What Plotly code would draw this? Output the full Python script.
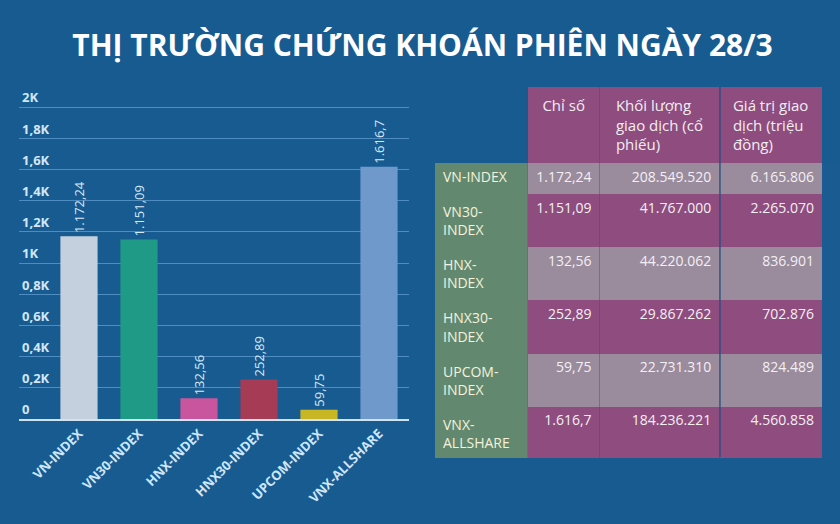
import plotly.graph_objects as go

# ---- data ----
indices = ["VN-INDEX", "VN30-INDEX", "HNX-INDEX", "HNX30-INDEX", "UPCOM-INDEX", "VNX-ALLSHARE"]
index_values = [1172.24, 1151.09, 132.56, 252.89, 59.75, 1616.7]
index_labels = ["1.172,24", "1.151,09", "132,56", "252,89", "59,75", "1.616,7"]
bar_colors = ["#c4d0dd", "#1f9a86", "#c8559d", "#a63b56", "#c8b624", "#6f98cb"]

y_tickvals = [0, 200, 400, 600, 800, 1000, 1200, 1400, 1600, 1800, 2000]
y_ticktext = ["0", "0,2K", "0,4K", "0,6K", "0,8K", "1K", "1,2K", "1,4K", "1,6K", "1,8K", "2K"]

table_names = ["VN-INDEX", "VN30-<br>INDEX", "HNX-<br>INDEX", "HNX30-<br>INDEX", "UPCOM-<br>INDEX", "VNX-<br>ALLSHARE"]
table_index = ["1.172,24", "1.151,09", "132,56", "252,89", "59,75", "1.616,7"]
table_volume = ["208.549.520", "41.767.000", "44.220.062", "29.867.262", "22.731.310", "184.236.221"]
table_value = ["6.165.806", "2.265.070", "836.901", "702.876", "824.489", "4.560.858"]
table_headers = ["", "<br>Chỉ số", "Khối lượng<br>giao dịch (cổ<br>phiếu)", "Giá trị giao<br>dịch (triệu<br>đồng)"]

title_text = "THỊ TRƯỜNG CHỨNG KHOÁN PHIÊN NGÀY 28/3"

BG = "#185b91"
GREEN = "#62896f"
PINK = "#8f4c7e"
GRAY = "#9a8b9d"
FONT = "Open Sans"

# plot-area geometry (pixels in an 840x524 page)
Y_MAX = 2150
PX_0, PX_2K = 419, 107
px_per_unit = (PX_0 - PX_2K) / 2000
px_top = PX_0 - Y_MAX * px_per_unit

fig = go.Figure()

fig.add_trace(go.Bar(
    x=indices, y=index_values, text=index_labels,
    marker=dict(color=bar_colors, line=dict(width=0)),
    width=0.62,
    textposition="outside", textangle=-90, cliponaxis=False,
    constraintext="none",
    textfont=dict(family=FONT, size=13, color="#d6e9f7"),
    hoverinfo="skip",
))

row_fill = [GRAY if i % 2 == 0 else PINK for i in range(len(indices))]
fig.add_trace(go.Table(
    domain=dict(x=[435 / 840, 823 / 840], y=[1 - 458 / 524, 1 - 87 / 524]),
    columnwidth=[93, 72, 120, 103],
    header=dict(
        values=table_headers,
        fill_color=[BG, PINK, PINK, PINK],
        line=dict(width=0, color=PINK),
        align=["left", "center", "center", "center"],
        font=dict(family=FONT, size=15, color="#f2eef2"),
        height=76,
    ),
    cells=dict(
        values=[table_names, table_index, table_volume, table_value],
        fill_color=[[GREEN] * len(indices), row_fill, row_fill, row_fill],
        line=dict(width=0, color=GREEN),
        align=["left", "right", "right", "right"],
        font=dict(family=FONT, size=14, color=[["#f4f2dc"] * len(indices), "#f3f0f3", "#f3f0f3", "#f3f0f3"]),
        height=31,
    ),
))

# thin dark divider between the last two table columns
fig.add_shape(type="line", xref="paper", yref="paper",
              x0=720 / 840, x1=720 / 840, y0=1 - 457 / 524, y1=1 - 87 / 524,
              line=dict(color="#1d4f80", width=1.2))

fig.update_layout(
    width=840, height=524,
    margin=dict(l=0, r=0, t=0, b=0),
    paper_bgcolor=BG, plot_bgcolor=BG,
    showlegend=False,
    title=dict(text="<b>" + title_text + "</b>", x=0.503, xanchor="center", y=1 - 45 / 524, yanchor="middle",
               font=dict(family=FONT, size=30, color="#ffffff")),
    xaxis=dict(
        domain=[19 / 840, 409 / 840], range=[-1, 5.5],
        tickangle=-45, showgrid=False, zeroline=False,
        showline=True, linecolor="#cfe3f2", linewidth=2,
        tickfont=dict(family=FONT, size=13, color="#cfe6f7", weight="bold"),
        ticks="", fixedrange=True,
    ),
    yaxis=dict(
        domain=[1 - PX_0 / 524, 1 - px_top / 524], range=[0, Y_MAX],
        tickvals=y_tickvals, ticktext=y_ticktext,
        ticklabelposition="inside top",
        showgrid=True, gridcolor="#4f8cc2", gridwidth=1, zeroline=False,
        tickfont=dict(family=FONT, size=13, color="#d2e7f7", weight="bold"),
        showline=False, ticks="", fixedrange=True,
    ),
)

fig.write_html("out.html")
